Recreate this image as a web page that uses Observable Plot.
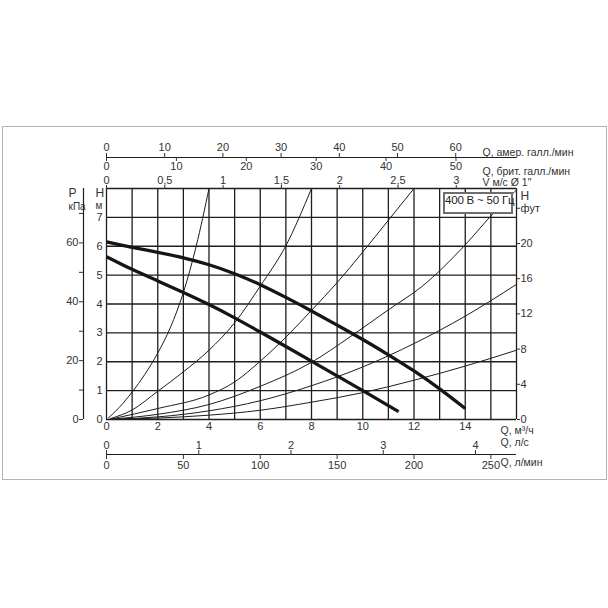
<!DOCTYPE html>
<html>
<head>
<meta charset="utf-8">
<script src="https://cdn.jsdelivr.net/npm/d3@7"></script>
<script src="https://cdn.jsdelivr.net/npm/@observablehq/plot@0.6"></script>
<style>
  body { margin: 0; background: #fff; }
  #wrap { position: relative; width: 608px; height: 608px; overflow: hidden; background: #fff; }
  #wrap svg { position: absolute; left: 0; top: 0; }
  #frame { position: absolute; left: 2px; top: 126px; width: 603px; height: 352px; border: 1.5px solid #b4b4b4; }
  #box { position: absolute; left: 443px; top: 192px; width: 66px; height: 18px; border: 2px solid #6e6e6e;
         background: #fff; color: #222; text-align: center; line-height: 18px; white-space: nowrap;
         font: 11.5px "Liberation Sans", Arial, sans-serif; letter-spacing: -0.2px; }
</style>
</head>
<body>
<div id="wrap"><div id="frame"></div></div>
<script>
// ---- data ----
// grid values
const gridQ = [0, 1, 2, 3, 4, 5, 6, 7, 8, 9, 10, 11, 12, 13, 14, 15, 16];   // m³/h
const gridH = [0, 1, 2, 3, 4, 5, 6, 7, 8];                                   // m
const qDomain = [0, 16];
const hDomain = [0, 8];

// tick labels
const qTicks = [0, 2, 4, 6, 8, 10, 12, 14];          // m³/h
const hTicks = [0, 1, 2, 3, 4, 5, 6, 7];             // m
const kPaTicks = [0, 10, 20, 30, 40, 50, 60, 70];    // kPa
const ftTicks = [0, 4, 8, 12, 16, 20, 24];           // ft
const usGpmTicks = [0, 10, 20, 30, 40, 50, 60];      // US gal/min
const ukGpmTicks = [0, 10, 20, 30, 40, 50];          // UK gal/min
const velTicks = [0, 0.5, 1, 1.5, 2, 2.5, 3];        // m/s, Ø 1"
const lpsTicks = [0, 1, 2, 3, 4];                    // l/s
const lpmTicks = [0, 50, 100, 150, 200, 250];        // l/min

// unit conversions to m³/h and m
const US_GPM = 0.2271247, UK_GPM = 0.2727655, VEL = 4.55, LPS = 3.6, LPM = 0.06;
const KPA = 1 / 9.81, FT = 0.3048;

// pump curves [Q m³/h, H m]
const pumpHigh = [[0, 6.15], [1, 5.96], [2, 5.79], [3, 5.6], [4, 5.36], [5, 5.05], [6, 4.67], [7, 4.23],
                  [8, 3.76], [9, 3.27], [10, 2.77], [11, 2.24], [12, 1.68], [13, 1.06], [14, 0.38]];
const pumpLow = [[0, 5.64], [1, 5.2], [2, 4.8], [3, 4.4], [4, 3.98], [5, 3.52], [6, 3.03], [7, 2.53],
                 [8, 2.02], [9, 1.51], [10, 1.0], [11, 0.48], [11.4, 0.27]];

// system (pipe) curves [Q m³/h, H m]
const sys1 = [[0.07, 0.05], [0.5, 0.42], [1, 0.95], [1.5, 1.57], [2, 2.3], [2.5, 3.2], [3, 4.4], [3.5, 6.0], [4, 8]];
const sys2 = [[0.15, 0.03], [1, 0.33], [2, 0.98], [3, 1.65], [4, 2.4], [5, 3.35], [6, 4.62], [7, 6.02], [8, 8]];
const sys3 = [[0.2, 0.02], [2, 0.38], [4, 0.85], [5, 1.3], [6, 2.02], [7, 2.85], [8, 3.78], [9, 4.74], [10, 5.8], [11, 6.9], [12, 8]];
const sys4 = [[0.3, 0.02], [2, 0.18], [4, 0.52], [6, 1.15], [8, 1.98], [9.5, 2.86], [11, 3.8], [12.3, 4.6], [14, 6.05], [15, 7.05], [16, 7.95]];
const sys5 = [[0.35, 0.01], [2, 0.09], [4, 0.3], [6, 0.65], [8, 1.17], [10, 1.82], [12, 2.63], [14, 3.58], [16, 4.68]];
const sys6 = [[0.4, 0.01], [2, 0.05], [4, 0.15], [6, 0.32], [8, 0.6], [10, 0.93], [12, 1.36], [14, 1.85], [16, 2.4]];
const systemCurves = [sys1, sys2, sys3, sys4, sys5, sys6];

// ---- chart ----
const ink = "#1e1e1e";
const X = d => d[0], Y = d => d[1];
const fmtComma = v => String(v).replace(".", ",");

const marks = [
  // grid
  Plot.ruleX(gridQ, {y1: hDomain[0], y2: hDomain[1], stroke: ink, strokeWidth: 1.3}),
  Plot.ruleY(gridH, {x1: qDomain[0], x2: qDomain[1], stroke: ink, strokeWidth: 1.3}),
  // system curves
  ...systemCurves.map(c => Plot.line(c, {x: X, y: Y, stroke: ink, strokeWidth: 1, curve: "monotone-x"})),
  // pump curves
  Plot.line(pumpHigh, {x: X, y: Y, stroke: "#151515", strokeWidth: 3.3, curve: "natural", strokeLinecap: "butt"}),
  Plot.line(pumpLow, {x: X, y: Y, stroke: "#151515", strokeWidth: 3.3, curve: "natural", strokeLinecap: "butt"}),

  // bottom axis m³/h
  Plot.axisX(qTicks, {anchor: "bottom", tickSize: 0, tickPadding: 3, label: null}),
  // left H axis (m)
  Plot.axisY(hTicks, {anchor: "left", tickSize: 0, tickPadding: 4, label: null}),
  // left P axis (kPa)
  Plot.ruleX([qDomain[0]], {y1: hDomain[0], y2: hDomain[1], dx: -23, stroke: ink, strokeWidth: 1.2}),
  Plot.axisY(kPaTicks.map(k => k * KPA), {anchor: "left", dx: -23, tickSize: 4, tickPadding: 1, label: null,
    tickFormat: d => { const k = Math.round(d / KPA); return k % 20 === 0 ? k : ""; }}),
  // right H axis (ft)
  Plot.axisY(ftTicks.map(f => f * FT), {anchor: "right", tickSize: 3, tickPadding: 1, label: null,
    tickFormat: d => { const f = Math.round(d / FT); return f === 24 ? "фут" : f; }}),

  // top: velocity axis on the grid top
  Plot.axisX(velTicks.map(v => v * VEL), {anchor: "top", tickSize: 4, tickPadding: 1, label: null,
    tickFormat: d => fmtComma(Math.round(d / VEL * 10) / 10)}),
  // top: US / UK gal/min double axis
  Plot.ruleY([hDomain[1]], {x1: qDomain[0], x2: qDomain[1], dy: -31, stroke: ink, strokeWidth: 1.2}),
  Plot.axisX(usGpmTicks.map(v => v * US_GPM), {anchor: "top", dy: -31, tickSize: 5, tickPadding: 2, label: null,
    tickFormat: d => Math.round(d / US_GPM)}),
  Plot.axisX(ukGpmTicks.map(v => v * UK_GPM), {anchor: "bottom", dy: -262, tickSize: 4, tickPadding: 1, label: null,
    tickFormat: d => Math.round(d / UK_GPM)}),
  // bottom: l/s and l/min double axis
  Plot.ruleY([hDomain[0]], {x1: qDomain[0], x2: qDomain[1], dy: 35, stroke: ink, strokeWidth: 1.2}),
  Plot.axisX(lpsTicks.map(v => v * LPS), {anchor: "top", dy: 266, tickSize: 5, tickPadding: 1, label: null,
    tickFormat: d => Math.round(d / LPS)}),
  Plot.axisX(lpmTicks.map(v => v * LPM), {anchor: "bottom", dy: 35, tickSize: 5, tickPadding: 2, label: null,
    tickFormat: d => Math.round(d / LPM)}),

  // axis titles
  Plot.text(["P"], {text: d => d, frameAnchor: "top-left", dx: -38, dy: 0, fontSize: 12}),
  Plot.text(["кПа"], {text: d => d, frameAnchor: "top-left", dx: -38, dy: 14, fontSize: 10}),
  Plot.text(["H"], {text: d => d, frameAnchor: "top-left", dx: -11, dy: 0, fontSize: 12}),
  Plot.text(["м"], {text: d => d, frameAnchor: "top-left", dx: -11, dy: 13, fontSize: 10}),
  Plot.text(["H"], {text: d => d, frameAnchor: "top-right", dx: 4, dy: 3, textAnchor: "start", fontSize: 12}),
  Plot.text(["Q, амер. галл./мин"], {text: d => d, frameAnchor: "top-right", dx: -34, dy: -40, textAnchor: "start", fontSize: 10.5}),
  Plot.text(["Q, брит. галл./мин"], {text: d => d, frameAnchor: "top-right", dx: -34, dy: -21, textAnchor: "start", fontSize: 10.5}),
  Plot.text(["V м/с Ø 1\""], {text: d => d, frameAnchor: "top-right", dx: -34, dy: -10, textAnchor: "start", fontSize: 10.5}),
  Plot.text(["Q, м³/ч"], {text: d => d, frameAnchor: "bottom-right", dx: -16, dy: 14, textAnchor: "start", fontSize: 10.5}),
  Plot.text(["Q, л/с"], {text: d => d, frameAnchor: "bottom-right", dx: -16, dy: 26, textAnchor: "start", fontSize: 10.5}),
  Plot.text(["Q, л/мин"], {text: d => d, frameAnchor: "bottom-right", dx: -16, dy: 46, textAnchor: "start", fontSize: 10.5})
];

const chart = Plot.plot({
  width: 608,
  height: 608,
  marginLeft: 106,
  marginRight: 92,
  marginTop: 188,
  marginBottom: 189,
  x: {domain: qDomain, label: null},
  y: {domain: hDomain, label: null},
  style: {
    background: "transparent",
    color: "#333",
    fontFamily: '"Liberation Sans", Arial, sans-serif',
    fontSize: "11px",
    overflow: "visible"
  },
  marks
});

const wrap = document.getElementById("wrap");
wrap.appendChild(chart);
const box = document.createElement("div");
box.id = "box";
box.textContent = "400 В ~ 50 Гц";
wrap.appendChild(box);
</script>
</body>
</html>
